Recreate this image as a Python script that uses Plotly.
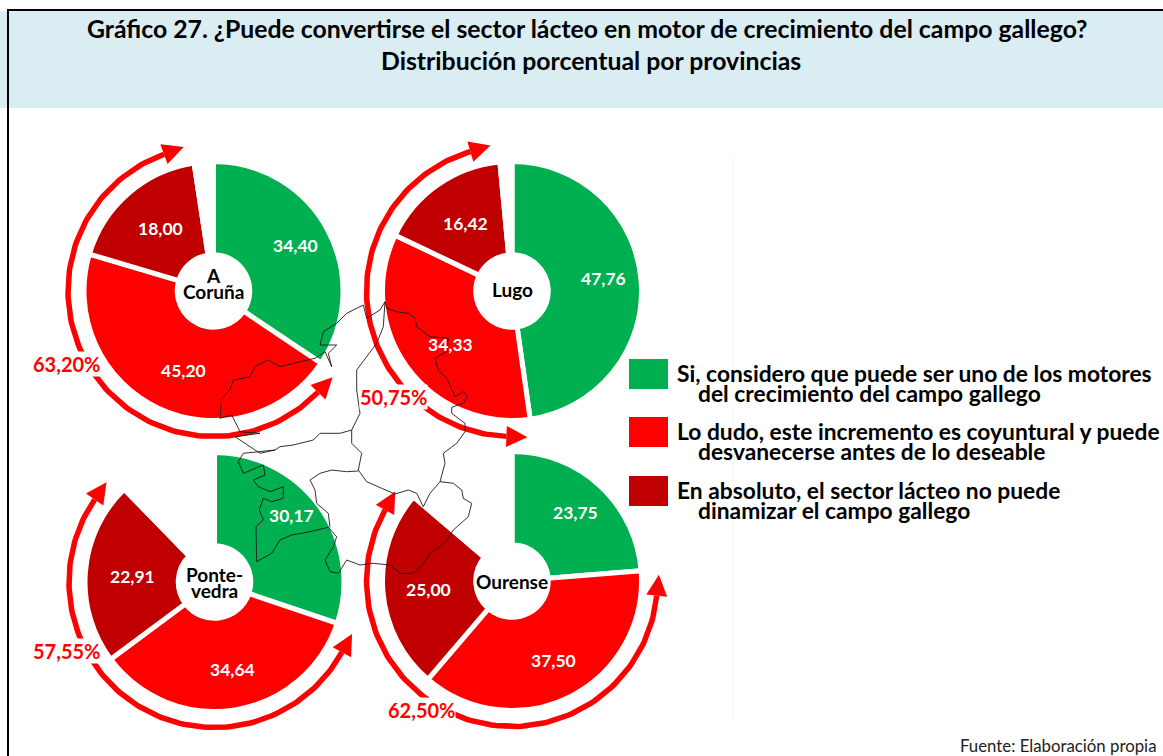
import numpy as np
import plotly.graph_objects as go

# ---- data ----
provincias = ["A Coruña", "Lugo", "Pontevedra", "Ourense"]
etiquetas_centro = [["A", "Coruña"], ["Lugo"], ["Ponte-", "vedra"], ["Ourense"]]
si_motor = [34.40, 47.76, 30.17, 23.75]
lo_dudo = [45.20, 34.33, 34.64, 37.50]
en_absoluto = [18.00, 16.42, 22.91, 25.00]
sin_respuesta = [2.40, 1.49, 12.28, 13.75]
categorias = ["Si", "Lo dudo", "En absoluto", "NS/NC"]
leyenda = [
    ["Si, considero que puede ser uno de los motores", "del crecimiento del campo gallego"],
    ["Lo dudo, este incremento es coyuntural y puede", "desvanecerse antes de lo deseable"],
    ["En absoluto, el sector lácteo no puede", "dinamizar el campo gallego"],
]
titulo = ["Gráfico 27. ¿Puede convertirse el sector lácteo en motor de crecimiento del campo gallego?",
          "Distribución porcentual por provincias"]
fuente = "Fuente: Elaboración propia"

# ---- layout constants (pixels of the 1163x756 page) ----
W, H = 1163, 756
centros = [(213.5, 291), (512, 291), (214.5, 582), (512, 581)]
R_PIE = 129.5
R_ARC = 145.5
FONT = "Lato"
VERDE, ROJO, GRANATE = "#00B050", "#FF0000", "#C00000"
AZUL = "#DAEDF3"
pos_pct = [(66, 364), (393, 397), (66, 651), (421, 710)]
pos_leyenda = [(359, 373), (417, 431), (476, 490)]
ajuste_centro = [-8, -2, 0, 0]
# label anchor points (si, dudo, absoluto) per province
pos_valores = [[(295, 245), (183, 370), (160, 228)],
               [(603, 278), (450, 344), (465, 223)],
               [(291, 515), (232, 669), (132, 576)],
               [(575, 512), (553, 660), (428, 589)]]

# decorative outline of Galicia (pixels)
def z(pts):
    return [(200 + a / 3, 290 + b / 3) for a, b in pts]

COSTA = z([(555,35),(560,55),(590,65),(625,70),(645,85),(650,110),(690,140),(745,145),(740,185),(705,205),(715,240),
(740,265),(765,320),(790,305),(803,320),(790,340),(755,352),(755,370),(795,400),(795,425),(770,460),(730,490),(735,520),
(720,575),(760,580),(785,600),(790,625),(815,640),(805,680),(760,720),(745,745),(720,770),(690,790),(675,815),(640,850),
(600,850),(570,825),(520,820),(480,825),(440,810),(415,850),(390,845),(375,810),(400,770),(410,740),(385,712),(330,725),
(275,735),(240,750),(215,790),(170,815),(168,710),(190,690),(178,660),(190,625),(215,635),(250,625),(250,590),(210,605),
(175,590),(160,570),(195,555),(190,525),(130,550),(115,515),(130,490),(225,480),(180,490),(135,460),(105,440),(180,430),
(120,425),(95,375),(60,385),(65,325),(90,300),(100,270),(150,260),(165,230),(205,210),(240,230),(300,215),(345,205),
(375,185),(395,230),(385,190),(410,165),(385,165),(360,165),(370,125),(410,100),(440,70),(490,45),(500,85),(540,60),(555,35)])
LIM1 = z([(555,35),(550,110),(530,160),(470,240),(470,300),(480,370),(455,420),(455,460),(485,490),(475,540),(500,575),
(545,595),(585,612),(625,600),(650,610),(670,650),(690,610),(720,575)])
LIM2 = z([(455,420),(420,430),(360,430),(340,450),(280,465),(240,470),(225,480)])
LIM3 = z([(475,543),(440,545),(395,540),(360,550),(330,570),(345,600),(350,640),(385,670),(390,712)])

def ruta(pts):
    return "M" + " L".join(f"{x:.1f},{y:.1f}" for x, y in pts)

def punto(c, r, ang):
    a = np.radians(ang)
    return c[0] + r * np.sin(a), c[1] - r * np.cos(a)

fig = go.Figure()

# arrows: they span the "Lo dudo" + "En absoluto" share of each pie
HEAD_LEN, HEAD_W = 21, 10.5
for c, s, d, e in zip(centros, si_motor, lo_dudo, en_absoluto):
    a0 = s * 3.6 + 2
    a1 = (s + d + e) * 3.6 - 3
    paso = np.degrees(HEAD_LEN / R_ARC)
    angs = np.linspace(a0 + paso, a1 - paso, 120)
    xs, ys = punto(c, R_ARC, angs)
    fig.add_trace(go.Scatter(x=xs, y=ys, mode="lines", line=dict(color=ROJO, width=5.5),
                             hoverinfo="skip", showlegend=False))
    for ang, sg in ((angs[0], -1), (angs[-1], 1)):
        bx, by = punto(c, R_ARC, ang)
        a = np.radians(ang)
        tx, ty = sg * np.cos(a), sg * np.sin(a)   # tangent
        nx, ny = np.sin(a), -np.cos(a)            # normal
        fig.add_trace(go.Scatter(
            x=[bx + nx * HEAD_W, bx + tx * HEAD_LEN, bx - nx * HEAD_W, bx + nx * HEAD_W],
            y=[by + ny * HEAD_W, by + ty * HEAD_LEN, by - ny * HEAD_W, by + ny * HEAD_W],
            mode="lines", fill="toself", fillcolor=ROJO, line=dict(color=ROJO, width=0),
            hoverinfo="skip", showlegend=False))

# pies
for i, c in enumerate(centros):
    fig.add_trace(go.Pie(
        labels=categorias,
        values=[si_motor[i], lo_dudo[i], en_absoluto[i], sin_respuesta[i]],
        name=provincias[i], sort=False, direction="clockwise", rotation=0, hole=0.28,
        domain=dict(x=[(c[0] - R_PIE) / W, (c[0] + R_PIE) / W],
                    y=[1 - (c[1] + R_PIE) / H, 1 - (c[1] - R_PIE) / H]),
        marker=dict(colors=[VERDE, ROJO, GRANATE, "rgba(255,255,255,0)"],
                    line=dict(color="#FFFFFF", width=5)),
        textinfo="none",
        hoverinfo="label+value", showlegend=False))

shapes = [
    dict(type="rect", x0=0, x1=W, y0=11, y1=108, fillcolor=AZUL, line=dict(width=0), layer="below"),
    dict(type="line", x0=733, x1=733, y0=155, y1=720, line=dict(color="#F6F6F6", width=1), layer="below"),
    dict(type="line", x0=7, x1=W, y0=10, y1=10, line=dict(color="#000000", width=2)),
    dict(type="line", x0=8, x1=8, y0=10, y1=H, line=dict(color="#000000", width=2)),
]
for p in (COSTA, LIM1, LIM2, LIM3):
    shapes.append(dict(type="path", path=ruta(p), line=dict(color="#1a1a1a", width=0.9), layer="above"))
for (y0, _), col in zip(pos_leyenda, (VERDE, ROJO, GRANATE)):
    shapes.append(dict(type="rect", x0=629, x1=668, y0=y0, y1=y0 + 30, fillcolor=col,
                       line=dict(width=0)))

anns = []
def texto(x, y, t, size, color="#000000", bold=True, anchor="center", **kw):
    anns.append(dict(x=x, y=y, xref="x", yref="y", text=f"<b>{t}</b>" if bold else t, showarrow=False,
                     xanchor=anchor, yanchor="middle",
                     font=dict(family=FONT, size=size, color=color), **kw))

texto(587, 28.5, titulo[0], 24.8)
texto(591, 60.5, titulo[1], 24.8)
texto(1158, 745, fuente, 16.8, color="#222222", bold=False, anchor="right")

for vals, pos in zip(zip(si_motor, lo_dudo, en_absoluto), pos_valores):
    for v, (x, y) in zip(vals, pos):
        texto(x, y, f"{v:.2f}".replace(".", ","), 17.5, color="#FFFFFF")

for c, lineas, aj in zip(centros, etiquetas_centro, ajuste_centro):
    n = len(lineas)
    for j, t in enumerate(lineas):
        texto(c[0], c[1] + aj + (j - (n - 1) / 2) * 16, t, 19)

for (x, y), s_d, s_e in zip(pos_pct, lo_dudo, en_absoluto):
    texto(x, y, f"{s_d + s_e:.2f}%".replace(".", ","), 20, color=ROJO, bgcolor="#FFFFFF", borderpad=0)

for (_, y), lineas in zip(pos_leyenda, leyenda):
    texto(675, y, lineas[0], 22.8, anchor="left")
    texto(696, y + 19.5, lineas[1], 22.8, anchor="left")

fig.update_layout(
    width=W, height=H, margin=dict(l=0, r=0, t=0, b=0),
    paper_bgcolor="#FFFFFF", plot_bgcolor="#FFFFFF",
    xaxis=dict(range=[0, W], visible=False, fixedrange=True),
    yaxis=dict(range=[H, 0], visible=False, fixedrange=True),
    shapes=shapes, annotations=anns, showlegend=False,
)
fig.write_html("out.html", config=dict(displayModeBar=False),
               post_script="document.body.style.margin='0';document.body.style.overflow='hidden';")
